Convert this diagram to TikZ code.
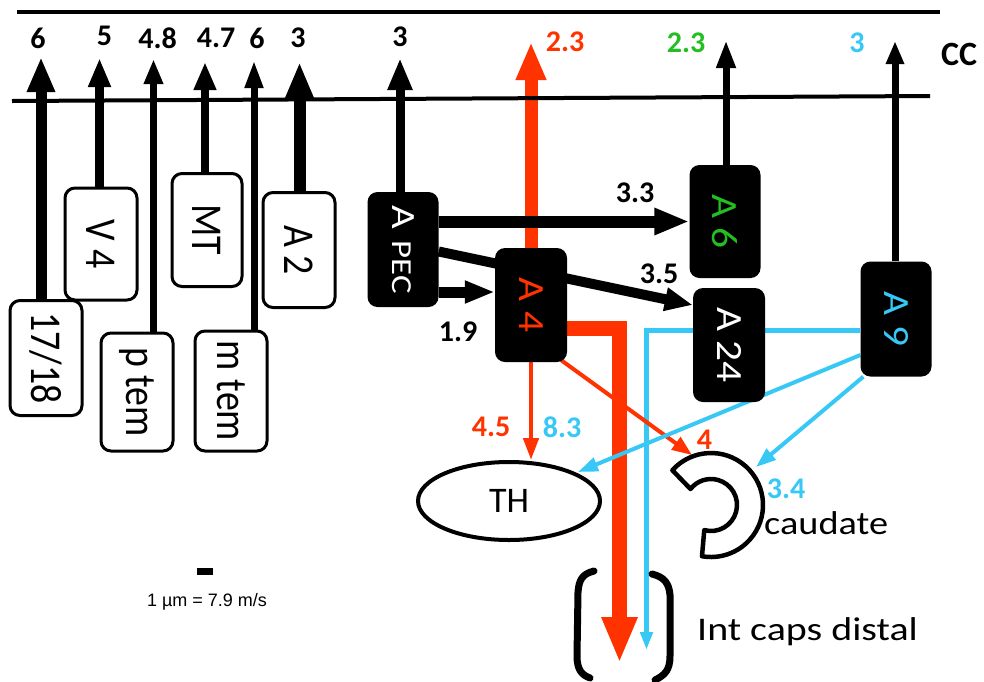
\documentclass[tikz,border=0pt]{standalone}
\usepackage{fontspec}
\setmainfont{Carlito}
\newfontfamily\arialf{Liberation Sans}
\usetikzlibrary{arrows.meta,shapes.geometric}
\definecolor{myred}{RGB}{255,51,0}
\definecolor{mygreen}{RGB}{34,190,34}
\definecolor{myblue}{RGB}{55,200,245}
\newcommand{\myvt}[3]{\rotatebox{-90}{\scalebox{#2}[1]{\fontsize{#1}{#1}\selectfont #3}}}
\newcommand{\mywide}[3]{\scalebox{#2}[1]{\fontsize{#1}{#1}\selectfont #3}}
\pgfdeclarelayer{bg}
\pgfsetlayers{bg,main}
\begin{document}
\begin{tikzpicture}[x=1pt,y=-1pt,
  wbox/.style={draw, line width=3pt, rounded corners=10pt, fill=white, inner sep=0pt},
  bbox/.style={fill=black, rounded corners=10pt, inner sep=0pt},
  lbl/.style={font=\fontsize{30}{32}\selectfont\bfseries, inner sep=0pt},
  arr/.style n args={3}{line width=#1, -{Triangle[length=#2,width=#3]}},
  bar/.style={line width=4.5pt}]
\useasboundingbox (0,0) rectangle (984,681);

% CC lines
\coordinate (L1a) at (17,12); \coordinate (L1b) at (940,12);
\coordinate (L2a) at (12,101); \coordinate (L2b) at (930,96);
\draw[bar] (L1a) -- (L1b);
\draw[line width=4pt] (L2a) -- (L2b);
\node[font=\fontsize{34}{36}\selectfont\bfseries, inner sep=0pt] (cc) at (959,54) {CC};

% white boxes
\node[wbox, minimum width=72pt, minimum height=115pt] (b1718) at (46,358) {\myvt{44}{0.86}{17/18}};
\node[wbox, minimum width=72pt, minimum height=112pt] (bV4) at (101,244) {\myvt{44}{0.86}{V 4}};
\node[wbox, minimum width=70pt, minimum height=113pt] (bMT) at (207,230) {\myvt{44}{0.86}{MT}};
\node[wbox, minimum width=72pt, minimum height=115pt] (bA2) at (299,250) {\myvt{44}{0.86}{A 2}};
\node[wbox, minimum width=72pt, minimum height=118pt] (bptem) at (137,392) {\myvt{44}{0.86}{p tem}};
\node[wbox, minimum width=72pt, minimum height=120pt] (bmtem) at (231,391) {\myvt{44}{0.86}{m tem}};

% black boxes
\node[bbox, minimum width=71pt, minimum height=115pt, text=white] (APEc) at (403,249.5) {\myvt{34}{1.2}{A\hspace{0.3em}{\fontsize{29}{29}\selectfont PEC}}};
\node[bbox, minimum width=72pt, minimum height=114pt, text=myred] (A4) at (531,305) {\myvt{37}{1.12}{A 4}};
\node[bbox, minimum width=71pt, minimum height=113pt, text=mygreen] (A6) at (725,221.5) {\myvt{37}{1.12}{A 6}};
\node[bbox, minimum width=72pt, minimum height=114pt, text=white] (A24) at (729,345) {\myvt{37}{1.12}{A 24}};
\node[bbox, minimum width=71pt, minimum height=115pt, text=myblue] (A9) at (896,319) {\myvt{37}{1.12}{A 9}};

% TH
\node[draw, ellipse, line width=4pt, minimum width=182pt, minimum height=78pt, inner sep=0pt, fill=white,
  font=\fontsize{36}{38}\selectfont] (TH) at (509,501) {TH};

% caudate
\draw[line width=4.5pt, fill=white, line join=round] (672.36,470.21) arc[start angle=-138, end angle=100, radius=52]
  -- (704.27,530.11) arc[start angle=105, end angle=-142, radius=26] -- cycle;
\node[anchor=west, inner sep=0pt] (caud) at (764,523) {\mywide{33}{1.16}{caudate}};

% brackets
\draw[line width=7pt, line cap=round] (594,571) .. controls (582,574) and (579,580) .. (578,592) -- (577,656) .. controls (577,670) and (582,675) .. (590,678);
\draw[line width=7pt, line cap=round] (652,574) .. controls (664,577) and (669,583) .. (670,595) -- (670,656) .. controls (670,670) and (665,675) .. (655,680);
\node[anchor=west, inner sep=0pt] (icd) at (697,632) {\mywide{33}{1.21}{Int caps distal}};

% scale
\node[fill=black, minimum width=16pt, minimum height=7pt, inner sep=0pt] (sbar) at (205,571.5) {};
\node[font=\arialf\fontsize{18}{20}\selectfont, inner sep=0pt] (stext) at (207,602) {1 µm = 7.9 m/s};

% tips
\coordinate (t1) at (41,57);
\coordinate (t2) at (99.5,58);
\coordinate (t3) at (153.5,59);
\coordinate (t4) at (205,62);
\coordinate (t5) at (254,60);
\coordinate (t6) at (299.5,62);
\coordinate (t7) at (400,58);
\coordinate (t8) at (531,42);
\coordinate (t9) at (726,40);
\coordinate (t10) at (895,41);
\coordinate (rc) at (619.5,328);
\coordinate (rtip) at (619.5,663);
\coordinate (bc) at (646.5,330);
\coordinate (btip) at (646.5,650);
\coordinate (cdA) at (692,455);
\coordinate (cdB) at (756,467);
\coordinate (thB) at (578,472);

\begin{pgfonlayer}{bg}
\draw[arr={11pt}{35pt}{26pt}] (b1718.north -| t1) -- (t1);
\draw[arr={9pt}{29pt}{21pt}] (bV4.north -| t2) -- (t2);
\draw[arr={7pt}{25pt}{18pt}] (bptem.north -| t3) -- (t3);
\draw[arr={7.5pt}{28pt}{21pt}] (bMT.north -| t4) -- (t4);
\draw[arr={7pt}{28pt}{17pt}] (bmtem.north -| t5) -- (t5);
\draw[arr={12pt}{36pt}{26pt}] (bA2.north -| t6) -- (t6);
\draw[arr={9pt}{32pt}{23pt}] (APEc.north -| t7) -- (t7);
\draw[arr={13pt}{38pt}{28pt}, myred] (A4.north) -- (t8);
\draw[arr={7pt}{28pt}{18pt}] (A6.north -| t9) -- (t9);
\draw[arr={7pt}{23pt}{17pt}] (A9.north -| t10) -- (t10);

% internal black arrows
\draw[arr={12pt}{35pt}{25pt}] (APEc.east |- A6.west) -- (A6.west);
\draw[arr={10pt}{28pt}{22pt}] ([yshift=-2pt]APEc.east) -- ([yshift=40pt]A24.west);
\draw[arr={11pt}{30pt}{21pt}] ([yshift=-42.5pt]APEc.east) -- ([yshift=-42.5pt]APEc.east -| A4.west);

% red thick
\draw[arr={15pt}{46pt}{33pt}, myred, line join=miter] (A4.east |- rc) -- (rc) -- (rtip);
% blue down
\draw[arr={5pt}{18pt}{12pt}, myblue, line join=miter] (A9.west |- bc) -- (bc) -- (btip);
% red thin
\draw[arr={4.5pt}{22pt}{15pt}, myred] (A4.south) -- (A4.south |- TH.north);
\draw[arr={4pt}{20pt}{15pt}, myred] ([xshift=-6pt,yshift=2pt]A4.south east) -- (cdA);
% blue thin
\draw[arr={4pt}{20pt}{14pt}, myblue] ([yshift=-36pt]A9.west) -- (thB);
\draw[arr={4pt}{20pt}{14pt}, myblue] ([xshift=3pt]A9.south west) -- (cdB);
\end{pgfonlayer}

% labels
\node[lbl] (l1) at (38,38) {6};
\node[lbl] (l2) at (104.5,36) {5};
\node[lbl] (l3) at (157.5,38) {4.8};
\node[lbl] (l4) at (216,38) {4.7};
\node[lbl] (l5) at (257,38) {6};
\node[lbl] (l6) at (298,38) {3};
\node[lbl] (l7) at (400,37) {3};
\node[lbl, text=myred] (l8) at (565,42) {2.3};
\node[lbl, text=mygreen] (l9) at (686,43) {2.3};
\node[lbl, text=myblue] (l10) at (857,43) {3};
\node[lbl] (l33) at (635,193) {3.3};
\node[lbl] (l35) at (659,274) {3.5};
\node[lbl] (l19) at (458,332) {1.9};
\node[lbl, text=myred] (l45) at (491,427) {4.5};
\node[lbl, text=myblue] (l83) at (562,427) {8.3};
\node[lbl, text=myred] (l4r) at (704.5,440) {4};
\node[lbl, text=myblue] (l34) at (786,489) {3.4};
\end{tikzpicture}
\end{document}
